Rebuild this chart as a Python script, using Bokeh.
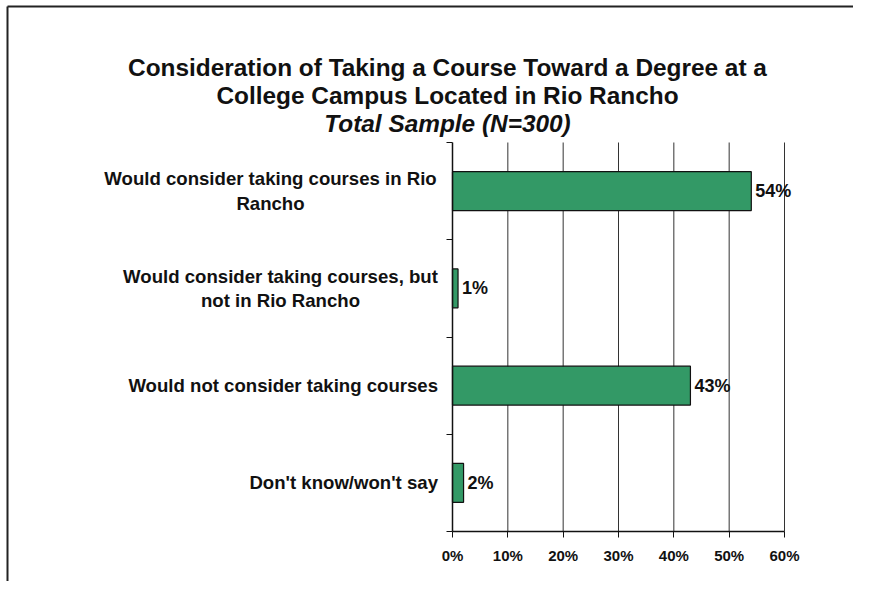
from bokeh.plotting import figure
from bokeh.models import Label, Range1d, FixedTicker
from bokeh.embed import file_html
from bokeh.resources import INLINE

# ---- data ----
categories = [
    "Would consider taking courses in Rio\nRancho",
    "Would consider taking courses, but\nnot in Rio Rancho",
    "Would not consider taking courses",
    "Don't know/won't say",
]
values = [54, 1, 43, 2]
tick_values = [0, 10, 20, 30, 40, 50, 60]
tick_labels = ["0%", "10%", "20%", "30%", "40%", "50%", "60%"]
title_lines = [
    "Consideration of Taking a Course Toward a Degree at a",
    "College Campus Located in Rio Rancho",
    "Total Sample (N=300)",
]

# ---- layout (pixels, canvas coordinates) ----
W, H = 853, 581
PX0, PX1 = 452, 784      # canvas x of 0% and 60%
PYB, PYT = 531, 142      # canvas y of plot bottom / top
FONT = "Liberation Sans"
n = len(categories)
sx = (PX1 - PX0) / (tick_values[-1] - tick_values[0])
sy = (PYB - PYT) / n
x_start = tick_values[0] - PX0 / sx
x_end = tick_values[0] + (W - PX0) / sx
y_start = -(H - PYB) / sy
y_end = n + PYT / sy

ys = [n - i - 0.5 for i in range(n)]

p = figure(width=W, height=H,
           x_range=Range1d(x_start, x_end), y_range=Range1d(y_start, y_end),
           output_backend="svg", toolbar_location=None,
           min_border=0)
p.outline_line_color = None
p.background_fill_color = "white"
p.border_fill_color = "white"

# grid lines (bounded to the plot area)
p.xgrid.visible = False
p.ygrid.visible = False
p.segment(x0=tick_values[1:], y0=[0] * (len(tick_values) - 1),
          x1=tick_values[1:], y1=[n] * (len(tick_values) - 1),
          line_color="#333333", line_width=1)

p.hbar(y=ys, left=0, right=values, height=0.4,
       fill_color="#339966", line_color="#111111", line_width=1.2)

# x axis
p.xaxis.fixed_location = 0
p.xaxis.bounds = (tick_values[0], tick_values[-1])
p.xaxis.ticker = FixedTicker(ticks=tick_values)
p.xaxis.major_label_overrides = {v: l for v, l in zip(tick_values, tick_labels)}
p.xaxis.major_label_text_font = FONT
p.xaxis.major_label_text_font_style = "bold"
p.xaxis.major_label_text_font_size = "15px"
p.xaxis.major_label_text_color = "#111111"
p.xaxis.major_label_standoff = 9
p.xaxis.major_tick_in = 0
p.xaxis.major_tick_out = 6
p.xaxis.minor_tick_line_color = None
p.xaxis.axis_line_color = "#111111"
p.xaxis.axis_line_width = 1.5
p.xaxis.major_tick_line_color = "#111111"

# y axis: boundary ticks only
p.yaxis.fixed_location = 0
p.yaxis.bounds = (0, n)
p.yaxis.ticker = FixedTicker(ticks=[], minor_ticks=list(range(n + 1)))
p.yaxis.major_label_text_font_size = "0px"
p.yaxis.minor_tick_in = 0
p.yaxis.minor_tick_out = 6
p.yaxis.minor_tick_line_color = "#111111"
p.yaxis.axis_line_color = "#111111"
p.yaxis.axis_line_width = 1.5

# outer border (left and top edges)
bx = x_start + 7 / sx
by = y_end - 6 / sy
p.segment(x0=[bx, bx], y0=[y_start, by], x1=[bx, x_end], y1=[by, by],
          line_color="#222222", line_width=2)

# value labels
for v, y in zip(values, ys):
    p.add_layout(Label(x=v, y=y, text=f"{v}%", x_offset=4,
                       text_baseline="middle", text_align="left",
                       text_font=FONT, text_font_style="bold",
                       text_font_size="18px", text_color="#111111"))

# category labels
cat_off = [-182, -172, -14.5, -14.5]
cat_align = ["center", "center", "right", "right"]
for c, y, o, a in zip(categories, ys, cat_off, cat_align):
    p.add_layout(Label(x=0, y=y, x_offset=o, text=c,
                       text_align=a, text_baseline="middle",
                       text_font=FONT, text_font_style="bold",
                       text_font_size="18.6px", text_line_height=1.16,
                       text_color="#111111"))

# title lines (baselines in canvas px from top)
title_base = [67, 95, 123]
title_style = ["bold", "bold", "bold italic"]
for t, b, s in zip(title_lines, title_base, title_style):
    p.add_layout(Label(x=0, y=y_end - b / sy, x_offset=447 - PX0, text=t,
                       text_align="center", text_baseline="alphabetic",
                       text_font=FONT, text_font_style=s,
                       text_font_size="24.4px", text_color="#111111"))

open("out.html", "w").write(file_html(p, INLINE))
